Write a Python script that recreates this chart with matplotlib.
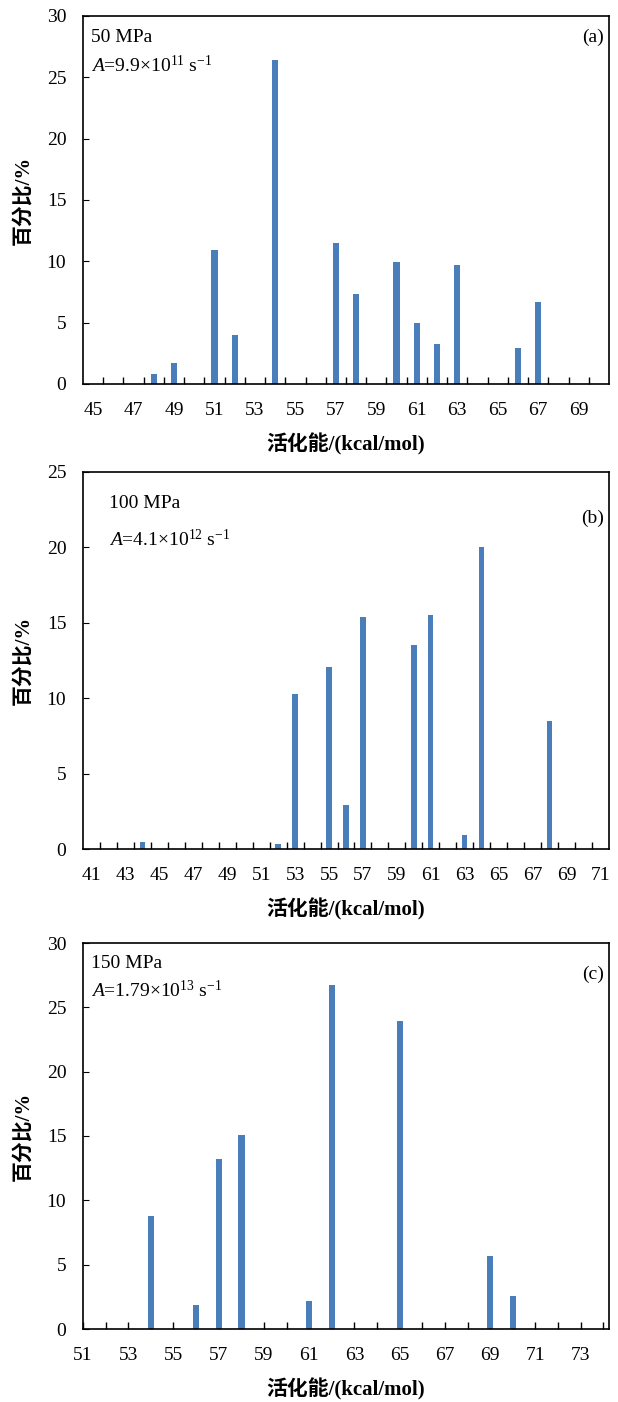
import matplotlib
matplotlib.use("Agg")
import matplotlib.pyplot as plt
import numpy as np

plt.rcParams['font.family'] = ['Liberation Serif', 'Noto Sans CJK SC']
plt.rcParams['mathtext.fontset'] = 'custom'
plt.rcParams['mathtext.rm'] = 'Liberation Serif'
plt.rcParams['mathtext.it'] = 'Liberation Serif:italic'

# ---------------- data ----------------
# panel (a) 50 MPa
a_range = (45, 70)
a_energy = [48, 49, 51, 52, 54, 57, 58, 60, 61, 62, 63, 66, 67]
a_percent = [0.85, 1.7, 10.9, 4.0, 26.4, 11.5, 7.35, 9.95, 5.0, 3.3, 9.7, 2.9, 6.7]

# panel (b) 100 MPa
b_range = (41, 71)
b_energy = [44, 52, 53, 55, 56, 57, 60, 61, 63, 64, 68]
b_percent = [0.45, 0.3, 10.3, 12.1, 2.9, 15.4, 13.5, 15.5, 0.9, 20.05, 8.5]

# panel (c) 150 MPa
c_range = (51, 74)
c_energy = [54, 56, 57, 58, 61, 62, 65, 69, 70]
c_percent = [8.75, 1.85, 13.25, 15.05, 2.15, 26.75, 23.95, 5.65, 2.55]

xlabel = '活化能/(kcal/mol)'
ylabel = '百分比/%'
bar_color = '#4a7ebb'

TICK_FS = 14
LABEL_FS = 15
ANN_FS = 14

W, H = 618, 1402
fig = plt.figure(figsize=(W / 100, H / 100), dpi=100)

def axes_px(left, top, right, bottom):
    return fig.add_axes([left / W, 1 - bottom / H, (right - left) / W, (bottom - top) / H])

def style(ax, ymax, ystep):
    for s in ax.spines.values():
        s.set_color('black')
        s.set_linewidth(1.2)
    ax.set_ylim(0, ymax)
    ax.set_yticks(np.arange(0, ymax + 0.1, ystep))
    ax.tick_params(axis='y', direction='in', length=4, labelsize=TICK_FS, pad=12)
    ax.set_xlabel(xlabel, fontsize=LABEL_FS, fontweight='bold', labelpad=10)
    ax.set_ylabel(ylabel, fontsize=LABEL_FS, fontweight='bold')
    ax.yaxis.set_label_coords(-0.095, 0.5)

def between_axis(ax, rng, energy, percent, width):
    lo, hi = rng
    ax.bar(energy, percent, width=width, color=bar_color, zorder=2)
    ax.set_xlim(lo - 0.5, hi + 0.5)
    ax.set_xticks(np.arange(lo, hi + 1, 2))
    ax.set_xticklabels([str(v) for v in range(lo, hi + 1, 2)])
    ax.set_xticks(np.arange(lo + 0.5, hi, 1), minor=True)
    ax.tick_params(axis='x', which='major', length=0, labelsize=TICK_FS, pad=13)
    ax.tick_params(axis='x', which='minor', direction='in', length=5, width=1)

def on_axis(ax, rng, energy, percent, width):
    lo, hi = rng
    ax.bar(energy, percent, width=width, color=bar_color, zorder=2)
    ax.set_xlim(lo, hi + 0.25)
    ax.set_xticks(np.arange(lo, hi + 1, 2))
    ax.set_xticklabels([str(v) for v in range(lo, hi + 1, 2)])
    ax.set_xticks(np.arange(lo + 1, hi + 1, 2), minor=True)
    ax.tick_params(axis='x', which='both', direction='in', length=5, width=1,
                   labelsize=TICK_FS, pad=13)

# (a)
ax1 = axes_px(83, 16, 609, 384)
between_axis(ax1, a_range, a_energy, a_percent, 0.31)
style(ax1, 30, 5)
ax1.text(0.015, 0.965, '50 MPa', transform=ax1.transAxes, fontsize=ANN_FS, va='top')
ax1.text(0.015, 0.895, r'$\mathit{A}$=9.9×10$^{11}$ s$^{-1}$', transform=ax1.transAxes,
         fontsize=ANN_FS, va='top')
ax1.text(0.99, 0.965, '(a)', transform=ax1.transAxes, fontsize=ANN_FS, va='top', ha='right')

# (b)
ax2 = axes_px(83, 472, 609, 849)
between_axis(ax2, b_range, b_energy, b_percent, 0.31)
style(ax2, 25, 5)
ax2.text(0.05, 0.94, '100 MPa', transform=ax2.transAxes, fontsize=ANN_FS, va='top')
ax2.text(0.05, 0.85, r'$\mathit{A}$=4.1×10$^{12}$ s$^{-1}$', transform=ax2.transAxes,
         fontsize=ANN_FS, va='top')
ax2.text(0.99, 0.9, '(b)', transform=ax2.transAxes, fontsize=ANN_FS, va='top', ha='right')

# (c)
ax3 = axes_px(83, 943, 609, 1329)
on_axis(ax3, c_range, c_energy, c_percent, 0.28)
style(ax3, 30, 5)
ax3.text(0.015, 0.97, '150 MPa', transform=ax3.transAxes, fontsize=ANN_FS, va='top')
ax3.text(0.015, 0.905, r'$\mathit{A}$=1.79×10$^{13}$ s$^{-1}$', transform=ax3.transAxes,
         fontsize=ANN_FS, va='top')
ax3.text(0.99, 0.94, '(c)', transform=ax3.transAxes, fontsize=ANN_FS, va='top', ha='right')

fig.savefig('out.png', dpi=100)
